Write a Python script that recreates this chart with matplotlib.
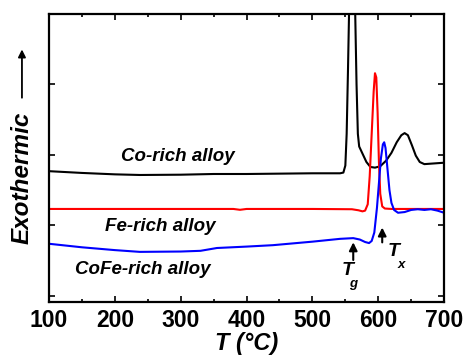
import matplotlib
matplotlib.use("Agg")
import matplotlib.pyplot as plt
from matplotlib.ticker import MultipleLocator

plt.rcParams['font.family'] = ['Liberation Sans', 'DejaVu Sans']

# Co-rich alloy (black)
co_T = [100, 150, 200, 238, 300, 350, 400, 450, 500, 530, 542, 547, 550, 552, 554, 556,
        558, 563, 565, 567, 569, 571, 574, 578, 582, 588, 595, 603, 612, 620, 628,
        635, 640, 645, 651, 657, 663, 670, 685, 700]
co_y = [1.77, 1.745, 1.725, 1.716, 1.72, 1.73, 1.73, 1.735, 1.74, 1.74, 1.74, 1.75, 1.85,
        2.3, 3.2, 4.2, 4.6, 4.6, 4.0, 3.0, 2.3, 2.12, 2.06, 1.98, 1.90, 1.83, 1.82, 1.84,
        1.92, 2.03, 2.18, 2.28, 2.31, 2.28, 2.14, 1.99, 1.90, 1.87, 1.88, 1.89]

# Fe-rich alloy (red)
fe_T = [100, 200, 300, 380, 390, 400, 500, 560, 570, 576, 580, 584, 587, 590, 593, 595,
        597, 599, 601, 603, 606, 610, 620, 700]
fe_y = [1.234, 1.234, 1.234, 1.234, 1.222, 1.234, 1.234, 1.23, 1.215, 1.20, 1.21, 1.30,
        1.7, 2.3, 2.9, 3.16, 3.1, 2.6, 1.9, 1.45, 1.27, 1.24, 1.234, 1.234]

# CoFe-rich alloy (blue)
cofe_T = [100, 150, 200, 238, 300, 330, 355, 400, 440, 500, 542, 562, 572, 580, 586,
          590, 594, 598, 601, 604, 607, 609, 611, 614, 617, 620, 624, 630, 640, 650,
          660, 670, 680, 690, 700]
cofe_y = [0.74, 0.69, 0.65, 0.625, 0.63, 0.64, 0.68, 0.70, 0.72, 0.77, 0.81, 0.82, 0.80,
          0.765, 0.75, 0.78, 0.90, 1.25, 1.6, 1.95, 2.15, 2.18, 2.1, 1.8, 1.5, 1.32,
          1.22, 1.18, 1.19, 1.22, 1.23, 1.22, 1.23, 1.21, 1.18]

x_ticks = [100, 200, 300, 400, 500, 600, 700]
labels = ["Co-rich alloy", "Fe-rich alloy", "CoFe-rich alloy"]

fig = plt.figure(figsize=(4.67, 3.59), dpi=100)
ax = fig.add_axes([0.105, 0.159, 0.846, 0.802])

ax.plot(co_T, co_y, color='black', lw=1.5)
ax.plot(fe_T, fe_y, color='red', lw=1.5)
ax.plot(cofe_T, cofe_y, color='blue', lw=1.5)

ax.set_xlim(100, 700)
ax.set_ylim(-0.085, 4.0)
ax.set_xticks(x_ticks)
ax.xaxis.set_minor_locator(MultipleLocator(50))
ax.set_yticks([0, 1, 2, 3, 4])
ax.set_yticklabels([])
ax.tick_params(which='both', direction='in', top=True, right=True, width=1.2)
ax.tick_params(which='major', length=4)
ax.tick_params(which='minor', length=2.5)
for lab in ax.get_xticklabels():
    lab.set_fontsize(16.5)
    lab.set_fontweight('bold')
ax.tick_params(axis='x', pad=5)
for s in ax.spines.values():
    s.set_linewidth(1.6)

ax.set_xlabel("T (°C)", fontsize=17, fontweight='bold', style='italic', labelpad=0)

txt = dict(fontsize=13.5, fontweight='bold', style='italic', ha='center', va='center')
ax.text(296, 1.98, labels[0], **txt)
ax.text(269, 0.99, labels[1], **txt)
ax.text(243, 0.37, labels[2], **txt)

# Tg and Tx arrows
ax.annotate('', xy=(562, 0.80), xytext=(562, 0.47),
            arrowprops=dict(arrowstyle='-|>', color='black', lw=1.5, mutation_scale=12))
ax.annotate('', xy=(606, 1.01), xytext=(606, 0.72),
            arrowprops=dict(arrowstyle='-|>', color='black', lw=1.5, mutation_scale=12))
ax.text(553, 0.36, "T", fontsize=14, fontweight='bold', style='italic', ha='center', va='center')
ax.text(562, 0.17, "g", fontsize=9.5, fontweight='bold', style='italic', ha='center', va='center')
ax.text(623, 0.63, "T", fontsize=14, fontweight='bold', style='italic', ha='center', va='center')
ax.text(635, 0.44, "x", fontsize=9.5, fontweight='bold', style='italic', ha='center', va='center')

# y label with arrow
fig.text(0.047, 0.505, "Exothermic", rotation=90, fontsize=17.5, fontweight='bold',
         style='italic', ha='center', va='center')
fig.add_artist(matplotlib.patches.FancyArrowPatch((0.047, 0.72), (0.047, 0.87),
               transform=fig.transFigure, arrowstyle='-|>', color='black', lw=1.3,
               mutation_scale=11))

fig.savefig("out.png", dpi=100)
